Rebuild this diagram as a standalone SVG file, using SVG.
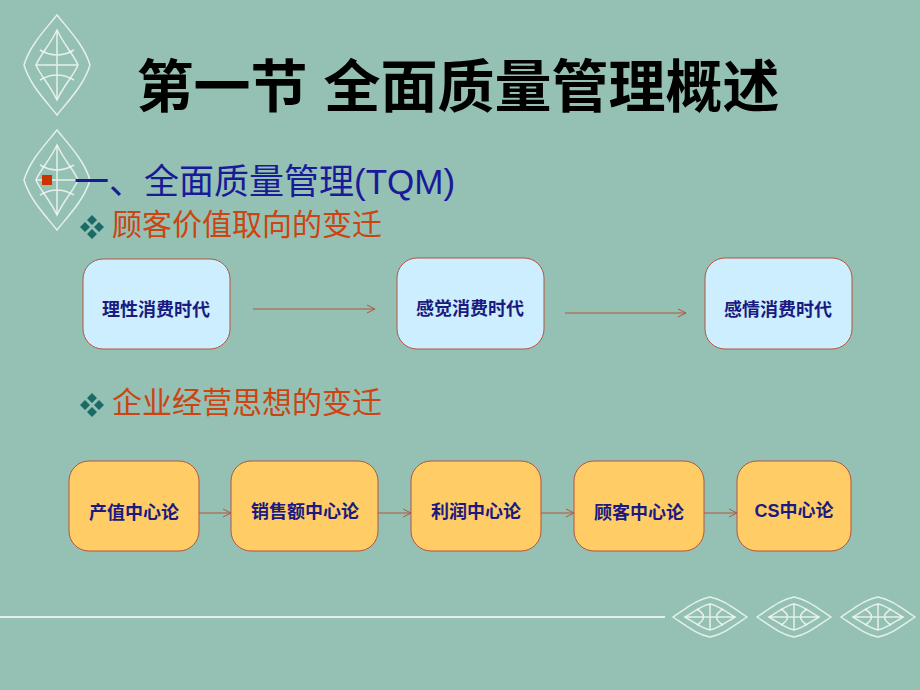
<svg xmlns="http://www.w3.org/2000/svg" width="920" height="690" viewBox="0 0 920 690">
<defs>
<style>
.t{font-family:"Liberation Sans","Noto Sans CJK SC",sans-serif}
.box1{fill:#CCEEFF;stroke:#B5543F;stroke-width:1}
.box2{fill:#FFCC66;stroke:#B5543F;stroke-width:1}
.lbl{font-family:"Liberation Sans","Noto Sans CJK SC",sans-serif;font-size:18px;font-weight:bold;fill:#1A1A80;text-anchor:middle}
.orn{fill:none;stroke:#F4F8F4;stroke-width:1.5;opacity:0.85}
.con{stroke:#B5543F;stroke-width:1;fill:none;marker-end:url(#ah)}
</style>
<marker id="ah" markerWidth="10" markerHeight="10" refX="9" refY="5" orient="auto" markerUnits="userSpaceOnUse">
<path d="M1,1 L9,5 L1,9" fill="none" stroke="#B5543F" stroke-width="1"/>
</marker>
<g id="ornV">
<path class="orn" d="M57,15 C45,30 30,45 24,65 C30,85 45,100 57,115 C69,100 84,85 90,65 C84,45 69,30 57,15 Z"/>
<path class="orn" d="M57,30 C50,45 40,55 36,65 C40,75 50,85 57,100 C64,85 74,75 78,65 C74,55 64,45 57,30 Z"/>
<path class="orn" d="M40,50 Q57,60 74,50 M40,80 Q57,70 74,80 M57,30 V100 M36,65 H78"/>
</g>
<g id="ornH">
<path class="orn" d="M0,20 C15,10 25,2 37,0 C49,2 59,10 74,20 C59,30 49,38 37,40 C25,38 15,30 0,20 Z"/>
<path class="orn" d="M12,20 C22,14 30,8 37,7 C44,8 52,14 62,20 C52,26 44,32 37,33 C30,32 22,26 12,20 Z"/>
<path class="orn" d="M12,20 H62 M37,7 V33 M24,12 Q37,20 24,28 M50,12 Q37,20 50,28"/>
</g>
</defs>
<rect width="920" height="690" fill="#94C1B3"/>
<use href="#ornV" x="0" y="0"/>
<use href="#ornV" x="0" y="115"/>
<line x1="0" y1="617" x2="665" y2="617" stroke="#E6F0EA" stroke-width="2"/>
<use href="#ornH" x="673" y="597"/>
<use href="#ornH" x="757" y="597"/>
<use href="#ornH" x="841" y="597"/>
<text class="t" x="458" y="107" font-size="57" font-weight="bold" text-anchor="middle" fill="#000">第一节 全面质量管理概述</text>
<rect x="42" y="175" width="10" height="10" fill="#CC3300"/>
<text class="t" x="74" y="194" font-size="35" fill="#1A1A99">一、全面质量管理(TQM)</text>
<text class="t" x="112" y="235" font-size="30" fill="#CC4411">顾客价值取向的变迁</text>
<text class="t" x="112" y="413" font-size="30" fill="#CC4411">企业经营思想的变迁</text>
<g fill="#1A6B66">
<path d="M92,215 l5,5 -5,5 -5,-5Z M85,222 l5,5 -5,5 -5,-5Z M99,222 l5,5 -5,5 -5,-5Z M92,229 l5,5 -5,5 -5,-5Z"/>
<path d="M92,393 l5,5 -5,5 -5,-5Z M85,400 l5,5 -5,5 -5,-5Z M99,400 l5,5 -5,5 -5,-5Z M92,407 l5,5 -5,5 -5,-5Z"/>
</g>
<g id="connectors">
<line class="con" x1="253" y1="309" x2="375" y2="309"/>
<line class="con" x1="565" y1="313" x2="686" y2="313"/>
<line class="con" x1="199" y1="513" x2="231" y2="513"/>
<line class="con" x1="378" y1="513" x2="411" y2="513"/>
<line class="con" x1="541" y1="513" x2="574" y2="513"/>
<line class="con" x1="704" y1="513" x2="737" y2="513"/>
</g>
<g id="n1"><rect class="box1" x="83" y="259" width="147" height="90" rx="20"/><text class="lbl" x="156" y="316">理性消费时代</text></g>
<g id="n2"><rect class="box1" x="397" y="258" width="147" height="91" rx="20"/><text class="lbl" x="470" y="315">感觉消费时代</text></g>
<g id="n3"><rect class="box1" x="705" y="258" width="147" height="91" rx="20"/><text class="lbl" x="778" y="316">感情消费时代</text></g>
<g id="m1"><rect class="box2" x="69" y="461" width="130" height="90" rx="20"/><text class="lbl" x="134" y="519">产值中心论</text></g>
<g id="m2"><rect class="box2" x="231" y="461" width="147" height="90" rx="20"/><text class="lbl" x="305" y="518">销售额中心论</text></g>
<g id="m3"><rect class="box2" x="411" y="461" width="130" height="90" rx="20"/><text class="lbl" x="476" y="518">利润中心论</text></g>
<g id="m4"><rect class="box2" x="574" y="461" width="130" height="90" rx="20"/><text class="lbl" x="639" y="519">顾客中心论</text></g>
<g id="m5"><rect class="box2" x="737" y="461" width="114" height="90" rx="20"/><text class="lbl" x="794" y="517">CS中心论</text></g>
</svg>
